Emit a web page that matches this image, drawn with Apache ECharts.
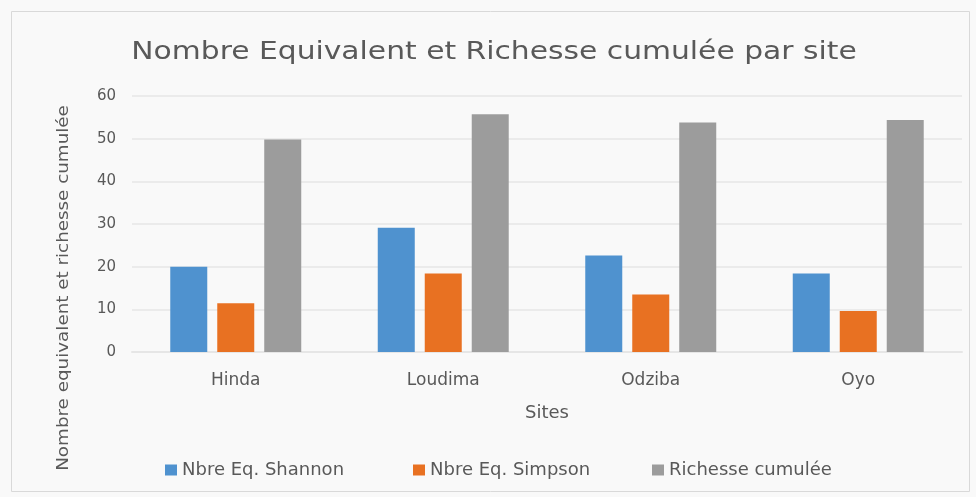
<!DOCTYPE html>
<html><head><meta charset="utf-8">
<script src="https://cdn.jsdelivr.net/npm/echarts@6/dist/echarts.min.js"></script>
<style>html,body{margin:0;padding:0;background:#fff}#c{width:976px;height:497px}</style>
</head><body><div id="c"></div>
<script>
const sites = ['Hinda', 'Loudima', 'Odziba', 'Oyo'];
const shannon = [20.0, 29.1, 22.6, 18.4];
const simpson = [11.4, 18.4, 13.5, 9.6];
const richesse = [49.8, 55.7, 53.8, 54.4];
const yTicks = [0, 10, 20, 30, 40, 50, 60];
const seriesNames = ['Nbre Eq. Shannon', 'Nbre Eq. Simpson', 'Richesse cumulée'];
const titleText = 'Nombre Equivalent et Richesse cumulée par site';
const yName = 'Nombre equivalent et richesse cumulée';

const chart = echarts.init(document.getElementById('c'));
const font = '"DejaVu Sans", "Open Sans", sans-serif';
const legendLefts = [160, 408, 647];
chart.setOption({
  backgroundColor: '#f9f9f9',
  animation: false,
  textStyle: { fontFamily: font },
  graphic: [{
    type: 'rect', left: 9, top: 9, shape: { width: 958, height: 480 },
    style: { fill: 'none', stroke: '#d9d9d9', lineWidth: 1 }, silent: true
  }, {
    type: 'text', x: 494, y: 52, scaleX: 1.19, silent: true,
    style: { text: titleText, fill: '#595959',
      font: '25px ' + font, align: 'center', verticalAlign: 'middle' }
  }, {
    type: 'text', x: 64, y: 288, rotation: Math.PI / 2, scaleX: 1.22, silent: true,
    style: { text: yName, fill: '#595959',
      font: '15px ' + font, align: 'center', verticalAlign: 'middle' }
  }],
  legend: seriesNames.map((n, i) => ({
    left: legendLefts[i], bottom: 13, itemWidth: 12, itemHeight: 11, itemGap: 0,
    icon: 'rect', data: [n],
    textStyle: { fontSize: 18, color: '#595959', fontFamily: font }
  })),
  grid: { left: 132, right: 14, top: 96, bottom: 145, containLabel: false },
  xAxis: {
    type: 'category', data: sites,
    name: 'Sites', nameLocation: 'middle', nameGap: 52,
    nameTextStyle: { fontSize: 18, color: '#595959' },
    axisLine: { show: true, lineStyle: { color: '#e6e6e6', width: 2 } },
    axisTick: { show: false },
    axisLabel: { fontSize: 17, color: '#595959', margin: 20 }
  },
  yAxis: {
    type: 'value', min: 0, max: 60, interval: 10,
    axisLine: { show: false }, axisTick: { show: false },
    axisLabel: { fontSize: 15, color: '#595959', margin: 16,
      formatter: v => yTicks.includes(v) ? String(v) : '' },
    splitLine: { lineStyle: { color: '#ebebeb', width: 2 } }
  },
  series: [
    { name: seriesNames[0], type: 'bar', data: shannon, barWidth: 37, barGap: '27%',
      itemStyle: { color: '#4F92CF' } },
    { name: seriesNames[1], type: 'bar', data: simpson, barWidth: 37,
      itemStyle: { color: '#E87122' } },
    { name: seriesNames[2], type: 'bar', data: richesse, barWidth: 37,
      itemStyle: { color: '#9C9C9C' } }
  ]
});
</script></body></html>
